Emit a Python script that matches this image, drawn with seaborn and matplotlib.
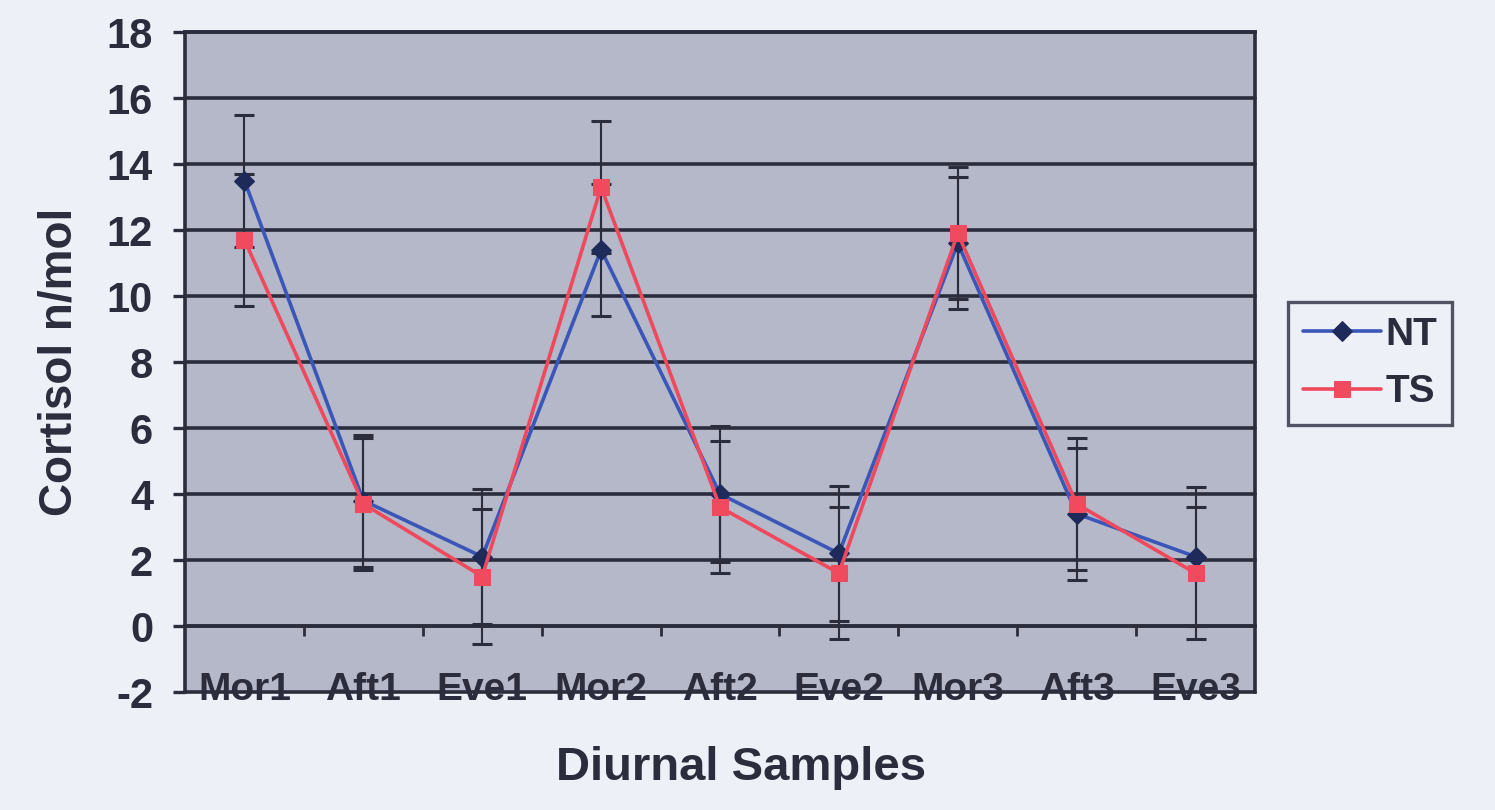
import numpy as np
import pandas as pd
import matplotlib
matplotlib.use("Agg")
import matplotlib.pyplot as plt
import seaborn as sns

# Diurnal cortisol samples
samples = ["Mor1", "Aft1", "Eve1", "Mor2", "Aft2", "Eve2", "Mor3", "Aft3", "Eve3"]
nt_mean = [13.5, 3.8, 2.1, 11.4, 4.0, 2.2, 11.6, 3.4, 2.1]
nt_err = [2.0, 2.0, 2.05, 2.0, 2.05, 2.05, 2.0, 2.0, 2.1]
ts_mean = [11.7, 3.7, 1.5, 13.3, 3.6, 1.6, 11.9, 3.7, 1.6]
ts_err = [2.0, 2.0, 2.05, 2.0, 2.0, 2.0, 2.0, 2.0, 2.0]
y_ticks = list(range(-2, 19, 2))

pos = np.arange(len(samples))
df = pd.DataFrame({"pos": pos, "sample": samples, "NT": nt_mean, "TS": ts_mean})

sns.set_style("white")
plt.rcParams["font.family"] = ["Liberation Sans", "DejaVu Sans"]
plt.rcParams["font.weight"] = "bold"

dark = "#2b2c3c"
fig = plt.figure(figsize=(14.95, 8.1), dpi=100, facecolor="#eef0f8")
ax = fig.add_axes([185 / 1495, 1 - 692 / 810, 1070 / 1495, 660 / 810])
ax.set_facecolor("#b4b8c8")

# error bars first so markers sit on top of the caps
ax.errorbar(pos, nt_mean, yerr=nt_err, fmt="none", ecolor=dark, elinewidth=1.5,
            capsize=7, capthick=2.2, zorder=2)
ax.errorbar(pos, ts_mean, yerr=ts_err, fmt="none", ecolor=dark, elinewidth=1.5,
            capsize=7, capthick=2.2, zorder=2)

sns.lineplot(data=df, x="pos", y="NT", ax=ax, color="#3a56b8", linewidth=2.6,
             marker="D", markersize=10, markerfacecolor="#1e2a5a",
             markeredgecolor="#1e2a5a", label="NT", zorder=3)
sns.lineplot(data=df, x="pos", y="TS", ax=ax, color="#f0485c", linewidth=2.6,
             marker="s", markersize=12, markerfacecolor="#f04a5e",
             markeredgecolor="#f04a5e", label="TS", zorder=4)

ax.set_xlim(-0.5, len(samples) - 0.5)
ax.set_ylim(-2, 18)
ax.set_yticks(y_ticks)
ax.set_yticklabels([str(t) for t in y_ticks])
ax.yaxis.grid(True, color=dark, linewidth=2.6)
for gl in ax.get_ygridlines():
    gl.set_clip_on(False)
ax.set_axisbelow(True)

# category axis crosses at zero, tick marks between categories
ax.spines["bottom"].set_position(("data", 0))
for s in ["left", "right", "top", "bottom"]:
    ax.spines[s].set_color(dark)
    ax.spines[s].set_linewidth(2.6)
ax.set_xticks(pos)
ax.set_xticklabels(samples)
ax.set_xticks(pos[:-1] + 0.5, minor=True)
ax.tick_params(axis="x", which="major", length=0, pad=33, labelsize=28, labelcolor=dark)
ax.tick_params(axis="x", which="minor", bottom=True, direction="out", length=7,
               width=2, color=dark)
ax.tick_params(axis="y", direction="out", length=9, width=2.4, color=dark, pad=14,
               labelsize=30, labelcolor=dark, left=True)

ax.set_xlabel("Diurnal Samples", fontsize=34, fontweight="bold", color=dark)
ax.xaxis.set_label_coords(0.52, -0.082)
ax.set_ylabel("Cortisol n/mol", fontsize=33, fontweight="bold", color=dark)
ax.yaxis.set_label_coords(-0.097, 0.5)

leg = ax.legend(loc="upper left", bbox_to_anchor=(1288 / 1495, 1 - 302 / 810),
                bbox_transform=fig.transFigure, fontsize=28, frameon=True,
                handlelength=2.0, handletextpad=0.12, labelspacing=0.55,
                borderpad=0.38, borderaxespad=0, fancybox=False)
leg.get_frame().set_edgecolor(dark)
leg.get_frame().set_linewidth(2.4)
leg.get_frame().set_facecolor("#eef0f8")
for t in leg.get_texts():
    t.set_color(dark)
    t.set_fontweight("bold")

fig.savefig("out.png", dpi=100, facecolor=fig.get_facecolor())
